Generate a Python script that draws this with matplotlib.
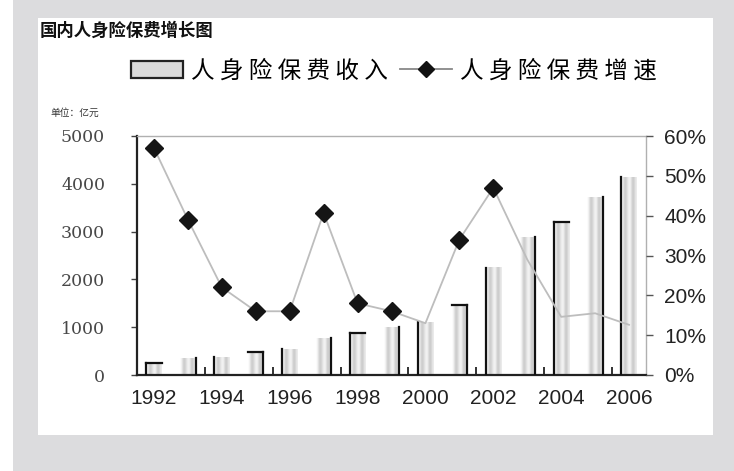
import numpy as np
import matplotlib.pyplot as plt
from matplotlib.patches import Rectangle
from matplotlib.lines import Line2D

years = [1992, 1993, 1994, 1995, 1996, 1997, 1998, 1999,
         2000, 2001, 2002, 2003, 2004, 2005, 2006]
premium = [250, 355, 370, 480, 540, 770, 880, 1000,
           1100, 1460, 2240, 2880, 3200, 3720, 4140]
growth = [57, 39, 22, 16, 16, 40.7, 18, 16,
          13, 34, 47, 29, 14.6, 15.5, 12.6]
left_ticks = [0, 1000, 2000, 3000, 4000, 5000]
right_ticks = [0, 10, 20, 30, 40, 50, 60]
xtick_years = [1992, 1994, 1996, 1998, 2000, 2002, 2004, 2006]

plt.rcParams['font.family'] = ['Noto Sans CJK SC', 'DejaVu Sans']

fig = plt.figure(figsize=(7.34, 4.71), dpi=100)
fig.patch.set_facecolor('#dcdcde')
# white strip on the far left and the white panel
fig.patches.append(Rectangle((0, 0), 13 / 734, 1, transform=fig.transFigure,
                             facecolor='white', edgecolor='none', zorder=-5))
fig.patches.append(Rectangle((38 / 734, 1 - 435 / 471), (713 - 38) / 734,
                             (435 - 18) / 471, transform=fig.transFigure,
                             facecolor='white', edgecolor='none', zorder=-5))

ax = fig.add_axes([137 / 734, 1 - 375 / 471, (646 - 137) / 734, (375 - 136) / 471])
ax.set_facecolor('none')

# gradient bars
w = 0.45
grad = np.array([[1.0, 0.74, 0.9, 1.0, 0.72, 0.93]])
for i, (yr, v) in enumerate(zip(years, premium)):
    ax.imshow(grad, cmap='gray', vmin=0, vmax=1, aspect='auto',
              extent=(yr - w / 2, yr + w / 2, 0, v), zorder=2,
              interpolation='bicubic')
    side = yr - w / 2 if i % 2 == 0 else yr + w / 2
    ax.plot([side, side], [0, v], color='#111111', lw=1.6, zorder=3)
    if i % 3 == 0:
        ax.plot([yr - w / 2, yr + w / 2], [v, v], color='#111111', lw=1.6, zorder=3)
ax.set_xlim(1991.5, 2006.5)
ax.set_ylim(0, 5000)

for s in ['top', 'right']:
    ax.spines[s].set_color('#b0b0b0')
    ax.spines[s].set_linewidth(1.0)
for s in ['left', 'bottom']:
    ax.spines[s].set_color('#222222')
    ax.spines[s].set_linewidth(1.6)

ax.set_yticks(left_ticks)
ax.set_yticklabels([str(t) for t in left_ticks], family='DejaVu Serif',
                   fontsize=12.5, color='#484848')
ax.set_xticks(xtick_years)
ax.set_xticklabels([str(t) for t in xtick_years], family='Liberation Sans',
                   fontsize=15, color='#222222')
ax.set_xticks([y + 0.5 for y in years[1:-1:2]], minor=True)
ax.tick_params(axis='x', which='major', length=0, pad=10)
ax.tick_params(axis='x', which='minor', direction='in', length=6, width=1.3,
               color='#222222')
ax.tick_params(axis='y', direction='out', length=4, width=1, color='#444444', pad=19)

ax2 = ax.twinx()
ax2.set_ylim(0, 60)
ax2.set_yticks(right_ticks)
ax2.set_yticklabels([f'{t}%' for t in right_ticks], family='Liberation Sans',
                    fontsize=15, color='#222222')
ax2.tick_params(axis='y', direction='out', length=5, width=1, color='#555555', pad=8)
for s in ax2.spines.values():
    s.set_visible(False)

ax2.plot(years, growth, color='#bdbdbd', lw=1.3, zorder=4)
ax2.plot(years, growth, linestyle='none', marker='D', markersize=9.5,
         color='#151515', markevery=[0, 1, 2, 3, 4, 5, 6, 7, 9, 10], zorder=5)

fig.text(40 / 734, 1 - 31 / 471, '国内人身险保费增长图', fontsize=12.5,
         fontweight='bold', va='center', ha='left', color='#111111')
fig.text(50 / 734, 1 - 113 / 471, '单位：亿元', fontsize=7, va='center',
         ha='left', color='#333333')

# legend row
leg_handles = [Rectangle((0, 0), 1, 1, facecolor='#dadada', edgecolor='#222222', lw=1.6),
               Line2D([0], [0], color='#888888', lw=1.3, marker='D',
                      markersize=8, markerfacecolor='#111111', markeredgecolor='#111111')]
leg_labels = [' '.join('人身险保费收入'), ' '.join('人身险保费增速')]
fig.legend(leg_handles, leg_labels, loc='center',
           bbox_to_anchor=(394 / 734, 1 - 71 / 471), ncol=2, frameon=False,
           prop={'size': 17, 'weight': 'light'}, handlelength=2.2,
           handleheight=0.75, columnspacing=0.5, handletextpad=0.35)

fig.savefig('out.png', dpi=100)
